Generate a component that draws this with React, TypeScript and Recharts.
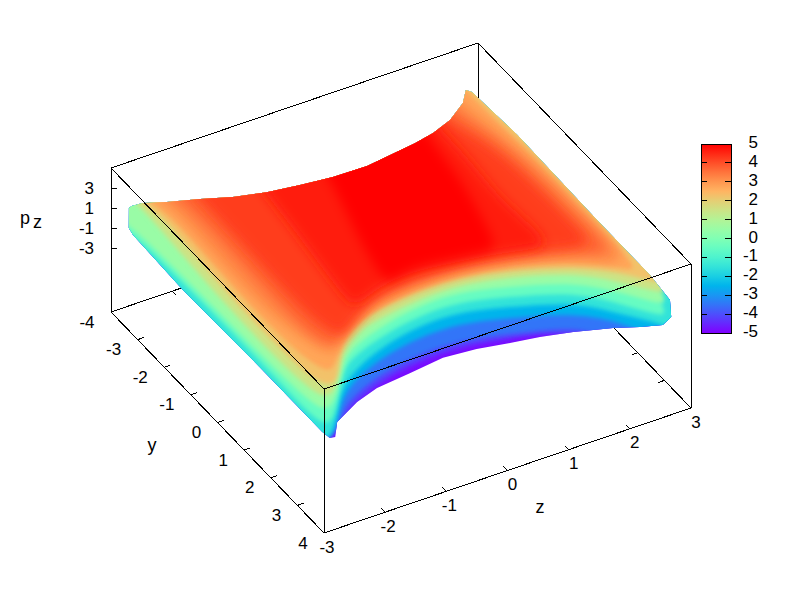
import React from 'react';
import { ScatterChart, Scatter, XAxis, YAxis } from 'recharts';

// outline of the visible sheet, [z, y, pz]
const outline = [
  [-2.72, -3.97, 0.5], [-2.72, -3.86, 1], [-2.67, -3.57, 2], [-2.48, -3.1, 3], [-2.15, -2.6, 4], [-1.76, -2.27, 4.3],
  [-1.31, -2.03, 4.5], [-0.85, -1.84, 4.8], [-0.35, -1.75, 4.8], [0.2, -1.73, 4.8], [1.06, -1.91, 4.8], [1.44, -2.1, 4.5],
  [1.86, -2.43, 4], [2.34, -3.05, 3], [2.65, -3.65, 2], [2.7, -3.54, 2], [2.69, -1.81, 2.5], [2.66, 1.25, 2.5],
  [2.66, 3.24, 2.5], [2.73, 3.83, 1.5], [2.72, 3.9, 0], [2.7, 3.63, -1.5], [2.51, 3.2, -2.5], [2.23, 2.84, -3],
  [1.81, 2.31, -4], [1.4, 2.0, -4.5], [1.02, 1.75, -5], [0.54, 1.6, -5], [0.02, 1.53, -5], [-0.57, 1.64, -5],
  [-1.15, 1.74, -5], [-1.62, 2.07, -4.5], [-2.28, 2.84, -3], [-2.66, 3.64, -1.5], [-2.74, 3.62, -1.5], [-2.76, 3.38, -1.5],
  [-2.76, 1.03, -1.5], [-2.79, -1.78, -1.5], [-2.87, -3.47, -0.5], [-2.9, -3.56, 0],
];

// iso-pz contours, [z, y]
const contourM45 = [[-2.15, -6.0], [-2.68, -4.59], [-2.58, -1.62], [-2.53, 2.4], [-2.46, 2.99], [-1.86, 2.25], [-1.14, 1.71], [0.05, 1.45], [1.02, 1.75], [1.71, 2.05], [1.86, 2.45], [3.21, 3.47], [3.69, 2.38], [4.08, -5.65]];
const contourM4 = [[-2.21, -5.86], [-2.74, -4.45], [-2.64, -1.48], [-2.59, 2.53], [-2.52, 3.13], [-1.97, 2.35], [-1.74, 2.09], [-1.11, 1.66], [0.08, 1.4], [1.01, 1.77], [1.92, 2.21], [2.09, 2.67], [3.15, 3.61], [3.63, 2.52], [4.02, -5.51]];
const contourM3 = [[-2.32, -5.59], [-2.86, -4.18], [-2.76, -1.21], [-2.71, 2.81], [-2.64, 3.4], [-2.19, 2.7], [-1.87, 2.11], [-1.03, 1.47], [0.17, 1.18], [1.08, 1.61], [1.97, 2.1], [2.41, 2.8], [2.51, 3.2], [3.13, 3.66], [3.51, 2.79], [3.9, -5.24]];
const contourM2 = [[-2.44, -5.32], [-2.97, -3.91], [-2.88, -0.94], [-2.83, 3.08], [-2.76, 3.67], [-2.22, 2.74], [-1.85, 2.08], [-1.03, 1.47], [0.2, 1.13], [1.09, 1.58], [1.98, 2.07], [2.39, 2.85], [2.72, 3.36], [2.81, 3.71], [3.39, 3.06], [3.78, -4.97]];
const contourM1 = [[-2.56, -5.05], [-2.89, -3.99], [-2.79, -3.4], [-2.76, -1.21], [-2.74, 1.08], [-2.78, 2.97], [-2.68, 3.48], [-2.32, 2.92], [-1.85, 2.08], [-1.62, 1.82], [-1.03, 1.47], [0.2, 1.13], [1.09, 1.58], [1.98, 2.07], [2.39, 2.85], [2.69, 3.44], [2.94, 3.73], [3.66, -4.7]];
const contour0 = [[-2.68, -4.77], [-2.91, -3.94], [-2.87, -3.54], [-2.84, -3.08], [-2.79, -0.87], [-2.77, 2.94], [-2.61, 3.32], [-2.25, 2.8], [-1.89, 2.16], [-1.62, 1.82], [-1.03, 1.47], [0.2, 1.13], [1.09, 1.58], [1.98, 2.07], [2.41, 2.8], [2.71, 3.39], [2.96, 3.68], [3.54, -4.42]];
const contour1 = [[-2.67, -4.22], [-2.64, -3.84], [-2.62, -3.42], [-2.75, -0.48], [-2.75, 2.89], [-2.56, 3.21], [-2.32, 2.92], [-2.03, 2.41], [-1.85, 2.08], [-1.38, 1.64], [-1.06, 1.52], [0.15, 1.24], [1.09, 1.58], [1.97, 2.1], [2.41, 2.8], [2.72, 3.36], [2.97, 3.65], [3.43, -4.15]];
const contour2 = [[-2.69, -3.88], [-2.68, -3.54], [-2.57, -3.03], [-2.72, -0.1], [-2.7, 1.58], [-2.69, 2.75], [-2.52, 3.24], [-2.28, 2.88], [-1.79, 1.94], [-1.47, 1.64], [-1.06, 1.52], [0.11, 1.32], [1.06, 1.67], [1.92, 2.21], [2.41, 2.8], [2.71, 3.39], [2.97, 3.65], [3.31, -3.88]];
const contour25 = [[-2.61, -3.7], [-2.64, -3.37], [-2.52, -2.81], [-2.64, 0.14], [-2.6, 2.17], [-2.46, 2.99], [-2.24, 2.69], [-1.8, 2.04], [-1.07, 1.55], [0.08, 1.4], [1.05, 1.69], [1.92, 2.21], [2.41, 2.8], [2.6, 3.08], [2.61, 1.28], [2.63, -1.31], [2.58, -3.41], [2.61, -3.86]];
const contour3 = [[-2.51, -3.48], [-2.5, -3.12], [-2.45, -2.57], [-2.56, 0.39], [-2.46, 1.48], [-2.38, 2.15], [-2.25, 2.61], [-2.04, 2.4], [-1.71, 2.01], [-1.08, 1.58], [0.05, 1.45], [1.03, 1.72], [1.91, 2.23], [2.26, 2.65], [2.51, 2.76], [2.52, 1.32], [2.51, -1.22], [2.31, -3.0], [2.31, -3.47]];
const contour35 = [[-2.36, -3.26], [-2.35, -2.82], [-2.3, -2.27], [-2.37, 0.71], [-2.35, 1.99], [-2.19, 2.55], [-1.9, 2.22], [-1.49, 1.88], [-1.08, 1.58], [0.04, 1.48], [1.03, 1.72], [1.92, 2.21], [2.19, 2.45], [2.37, 2.48], [2.33, 1.36], [2.33, -1.18], [2.05, -2.69], [2.06, -3.08]];
const contour4 = [[-2.12, -3.05], [-2.15, -2.6], [-2.15, -1.98], [-2.21, 1.01], [-2.17, 1.95], [-2.06, 2.5], [-1.8, 2.22], [-1.48, 1.93], [-1.09, 1.6], [0.02, 1.53], [1.02, 1.75], [1.91, 2.23], [2.15, 2.24], [2.15, 1.41], [2.12, -1.15], [1.8, -2.41], [1.82, -2.83]];
const contour45 = [[-1.3, -2.46], [-1.33, -2.13], [-1.41, -0.92], [-1.52, 0.45], [-1.6, 1.58], [-1.6, 1.94], [-1.09, 1.6], [-0.49, 1.47], [-0.01, 1.59], [0.99, 1.83], [1.58, 2.17], [1.54, 1.12], [1.49, 0.18], [1.57, -1.02], [1.58, -2.17], [1.61, -2.62]];
const contour48 = [[-0.4, -2.04], [-0.42, -1.69], [-0.59, -0.74], [-0.8, 0.37], [-0.92, 1.26], [-0.93, 1.65], [-0.68, 1.52], [-0.34, 1.48], [0.01, 1.56], [0.52, 1.66], [0.81, 1.74], [0.93, 1.21], [1.12, 0.01], [1.22, -0.89], [1.28, -1.75], [1.34, -2.18]];

const contourLevels = [-4.5, -4, -3, -2, -1, 0, 1, 2, 2.5, 3, 3.5, 4, 4.5, 4.8];
const contours = [contourM45, contourM4, contourM3, contourM2, contourM1, contour0, contour1, contour2, contour25, contour3, contour35, contour4, contour45, contour48];

const yTicks = [-4, -3, -2, -1, 0, 1, 2, 3, 4];
const zTicks = [-3, -2, -1, 0, 1, 2, 3];
const pzTicks = [-3, -1, 1, 3];
const barTicks = [-5, -4, -3, -2, -1, 0, 1, 2, 3, 4, 5];

const FONT = '"Liberation Sans", Arial, sans-serif';
const BLACK = '#000';

// gnuplot view of the box, floor sits below pz = -5
const project = (z: number, y: number, pz: number) => {
  const u = (y + 4) / 8;
  const v = (z + 3) / 6;
  return { x: 111 + 213 * u + 367 * v, y: 218 + 221 * u - 125 * v - 10 * pz };
};
const TOP = 5;
const FLOOR = -9.4;

// rgbformulae 33,13,10
const palette = (pz: number) => {
  const t = Math.min(1, Math.max(0, (pz + 5) / 10));
  const r = Math.min(1, Math.abs(2 * t - 0.5));
  const g = Math.sin(Math.PI * t);
  const b = Math.max(0, Math.cos((Math.PI * t) / 2));
  return `rgb(${Math.round(r * 255)},${Math.round(g * 255)},${Math.round(b * 255)})`;
};

const barY = (pz: number) => 333 - (pz + 5) * 18.9;

const NoMark = () => <g />;

const edge = (key: string, points: { x: number; y: number }[]) => (
  <Scatter
    key={key}
    data={points}
    shape={NoMark}
    line={{ stroke: BLACK, strokeWidth: 1, shapeRendering: 'crispEdges' }}
    isAnimationActive={false}
  />
);

const TickLabel = (props: any) => (
  <text
    x={props.cx + props.payload.dx}
    y={props.cy + props.payload.dy}
    textAnchor={props.payload.anchor}
    dominantBaseline="central"
    fontFamily={FONT}
    fontSize={17}
    fill={BLACK}
  >
    {props.payload.label}
  </text>
);

const labels = (key: string, points: any[]) => (
  <Scatter key={key} data={points} shape={TickLabel} isAnimationActive={false} />
);

const outlinePoints = outline.map(([z, y, p]) => project(z, y, p));

export default function App() {
  const back = [
    edge('floor-back', [project(-3, -4, FLOOR), project(3, -4, FLOOR), project(3, 4, FLOOR)]),
    edge('floor-front', [project(-3, -4, FLOOR), project(-3, 4, FLOOR), project(3, 4, FLOOR)]),
    edge('v-left', [project(-3, -4, FLOOR), project(-3, -4, TOP)]),
    edge('v-back', [project(3, -4, FLOOR), project(3, -4, TOP)]),
    edge('v-right', [project(3, 4, FLOOR), project(3, 4, TOP)]),
    edge('top-back', [project(-3, -4, TOP), project(3, -4, TOP), project(3, 4, TOP)]),
    ...yTicks.slice(1, -1).flatMap((t) => [
      edge(`y-${t}`, [project(-3, t, FLOOR), project(-2.9, t, FLOOR)]),
      edge(`ym-${t}`, [project(3, t, FLOOR), project(2.9, t, FLOOR)]),
    ]),
    ...zTicks.slice(1, -1).flatMap((t) => [
      edge(`z-${t}`, [project(t, 4, FLOOR), project(t, 3.85, FLOOR)]),
      edge(`zm-${t}`, [project(t, -4, FLOOR), project(t, -3.85, FLOOR)]),
    ]),
    ...pzTicks.map((t) => edge(`p-${t}`, [project(-3, -4, t), { x: project(-3, -4, t).x + 6, y: project(-3, -4, t).y }])),
  ];

  const bands = contours.map((pts, i) => {
    const level = contourLevels[i];
    const next = i + 1 < contourLevels.length ? contourLevels[i + 1] : 5.1;
    return (
      <Scatter
        key={`band-${level}`}
        data={pts.map(([z, y]) => project(z, y, level))}
        shape={NoMark}
        lineJointType="basis"
        line={{
          fill: palette((level + next) / 2),
          stroke: 'none',
          filter: level >= 3 ? 'url(#softer)' : 'url(#soft)',
          clipPath: 'url(#sheet)',
        }}
        isAnimationActive={false}
      />
    );
  });

  const barEdges = [
    edge('bar-box', [
      { x: 701, y: barY(-5) },
      { x: 731, y: barY(-5) },
      { x: 731, y: barY(5) },
      { x: 701, y: barY(5) },
      { x: 701, y: barY(-5) },
    ]),
    ...barTicks.slice(1, -1).flatMap((t) => [
      edge(`bl-${t}`, [{ x: 701, y: barY(t) }, { x: 707, y: barY(t) }]),
      edge(`br-${t}`, [{ x: 725, y: barY(t) }, { x: 731, y: barY(t) }]),
    ]),
  ];

  return (
    <div style={{ position: 'absolute', left: 0, top: 0, width: 800, height: 600, background: '#fff' }}>
      <ScatterChart width={800} height={600} margin={{ top: 0, right: 0, bottom: 0, left: 0 }}>
        <defs>
          <filter id="soft" x="-10%" y="-10%" width="120%" height="120%">
            <feGaussianBlur stdDeviation="2" />
          </filter>
          <filter id="softer" x="-15%" y="-15%" width="130%" height="130%">
            <feGaussianBlur stdDeviation="6" />
          </filter>
          <clipPath id="sheet">
            <polygon points={outlinePoints.map((p) => `${p.x},${p.y}`).join(' ')} />
          </clipPath>
          <linearGradient id="barFill" gradientUnits="userSpaceOnUse" x1="0" y1={barY(-5)} x2="0" y2={barY(5)}>
            {Array.from({ length: 21 }, (_, i) => (
              <stop key={i} offset={i / 20} stopColor={palette(-5 + i / 2)} />
            ))}
          </linearGradient>
        </defs>
        <XAxis type="number" dataKey="x" domain={[0, 800]} hide />
        <YAxis type="number" dataKey="y" domain={[0, 600]} reversed hide />

        {back}

        <Scatter
          data={outlinePoints}
          shape={NoMark}
          line={{ fill: palette(-4.85), stroke: 'none' }}
          isAnimationActive={false}
        />
        {bands}

        {edge('top-front', [project(-3, -4, TOP), project(-3, 4, TOP), project(3, 4, TOP)])}
        {edge('v-front', [project(-3, 4, FLOOR), project(-3, 4, TOP)])}

        <Scatter
          data={[{ x: 716, y: barY(-5) }, { x: 716, y: barY(5) }]}
          shape={NoMark}
          line={{ stroke: 'url(#barFill)', strokeWidth: 30 }}
          isAnimationActive={false}
        />
        {barEdges}

        {labels('y-labels', yTicks.map((t) => ({ ...project(-3, t, FLOOR), dx: t < 0 ? -24 : -21, dy: 10, anchor: 'middle', label: t })))}
        {labels('z-labels', zTicks.map((t) => ({ ...project(t, 4, FLOOR), dx: t < 0 ? 3 : 5, dy: 14, anchor: 'middle', label: t })))}
        {labels('p-labels', pzTicks.map((t) => ({ ...project(-3, -4, t), dx: -17, dy: 0, anchor: 'end', label: t })))}
        {labels('bar-labels', barTicks.map((t) => ({ x: 758, y: barY(t), dx: 0, dy: -1.5, anchor: 'end', label: t })))}

        <text x={20} y={224} fontFamily={FONT} fontSize={18} fill={BLACK}>
          p<tspan dx={3} dy={4}>z</tspan>
        </text>
        <text x={152} y={445} textAnchor="middle" dominantBaseline="central" fontFamily={FONT} fontSize={18} fill={BLACK}>y</text>
        <text x={540} y={507} textAnchor="middle" dominantBaseline="central" fontFamily={FONT} fontSize={18} fill={BLACK}>z</text>
      </ScatterChart>
    </div>
  );
}
